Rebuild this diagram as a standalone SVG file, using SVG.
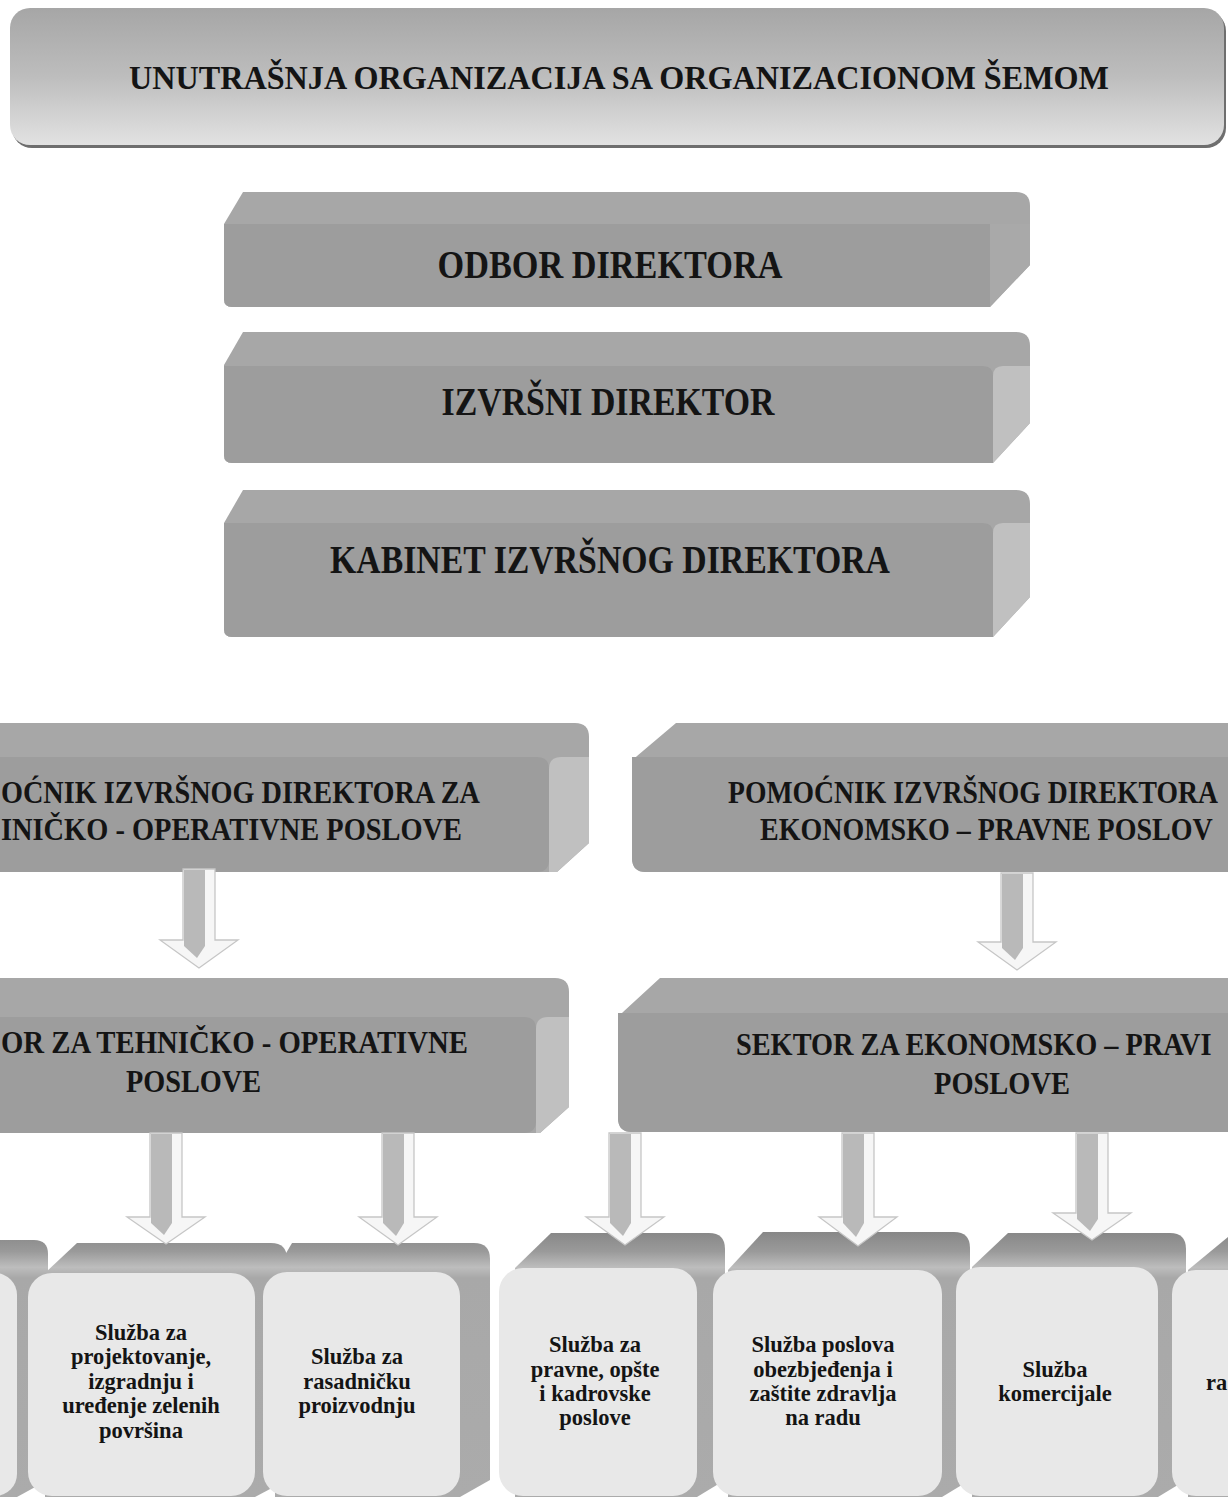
<svg xmlns="http://www.w3.org/2000/svg" width="1228" height="1497" viewBox="0 0 1228 1497">
<style>
  .t{font-family:"Liberation Serif","Times New Roman",serif;font-weight:bold;fill:#141414}
  .title{font-size:34px}
  .big{font-size:40px}
  .mid{font-size:32px}
  .sm{font-size:22.5px;text-anchor:middle}
  .sil{fill:#a7a7a7}
  .front{fill:#9d9d9d}
  .side{fill:#c0c0c0}
  .bfront{fill:#e8e8e8}
  .back{fill:url(#gTop)}
  .aout{fill:#f6f6f6;stroke:#c6c6c6;stroke-width:1.3}
  .ain{fill:#b9b9b9}
</style>
<defs>
  <linearGradient id="gTitle" x1="0" y1="0" x2="0" y2="1">
    <stop offset="0" stop-color="#a6a6a6"/>
    <stop offset="0.5" stop-color="#bdbdbd"/>
    <stop offset="1" stop-color="#e2e2e2"/>
  </linearGradient>
  <linearGradient id="gTop" gradientUnits="userSpaceOnUse" x1="0" y1="1230" x2="0" y2="1497">
    <stop offset="0" stop-color="#858585"/>
    <stop offset="0.08" stop-color="#9a9a9a"/>
    <stop offset="0.14" stop-color="#bdbdbd"/>
    <stop offset="0.18" stop-color="#a8a8a8"/>
    <stop offset="1" stop-color="#ababab"/>
  </linearGradient>
</defs>

<g id="title">
  <rect x="12" y="11" width="1214" height="137" rx="20" fill="#6e6e6e"/>
  <rect x="10" y="8" width="1214" height="137" rx="20" fill="url(#gTitle)"/>
  <text class="t title" x="619" y="89" text-anchor="middle" textLength="980" lengthAdjust="spacingAndGlyphs">UNUTRAŠNJA ORGANIZACIJA SA ORGANIZACIONOM ŠEMOM</text>
</g>

<g id="odbor-direktora">
  <path class="sil" d="M243,192 H1016 Q1030,192 1030,206 V265 L990,307 H232 Q224,307 224,299 V224 Z"/>
  <path class="front" d="M224,224 H990 V307 H232 Q224,307 224,299 Z"/>
  <path fill="#a9a9a9" d="M990,224 H1030 V265 L990,307 Z"/>
  <text class="t big" x="610" y="278" text-anchor="middle" textLength="345" lengthAdjust="spacingAndGlyphs">ODBOR DIREKTORA</text>
</g>

<g id="izvrsni-direktor">
  <path class="sil" d="M243,332 H1016 Q1030,332 1030,346 V423 L993,463 H232 Q224,463 224,455 V365 Z"/>
  <path class="front" d="M224,366 H983 Q993,366 993,376 V463 H232 Q224,463 224,455 Z"/>
  <path class="side" d="M993,376 Q993,366 1003,366 H1030 V423 L993,463 Z"/>
  <text class="t big" x="608" y="415" text-anchor="middle" textLength="333" lengthAdjust="spacingAndGlyphs">IZVRŠNI DIREKTOR</text>
</g>

<g id="kabinet">
  <path class="sil" d="M243,490 H1016 Q1030,490 1030,504 V597 L993,637 H232 Q224,637 224,629 V523 Z"/>
  <path class="front" d="M224,523 H983 Q993,523 993,533 V637 H232 Q224,637 224,629 Z"/>
  <path class="side" d="M993,533 Q993,523 1003,523 H1030 V597 L993,637 Z"/>
  <text class="t big" x="610" y="573" text-anchor="middle" textLength="560" lengthAdjust="spacingAndGlyphs">KABINET IZVRŠNOG DIREKTORA</text>
</g>

<g id="pomocnik-tehnicko">
  <path class="sil" d="M-5,723 H575 Q589,723 589,737 V843 L557,872 H-5 Z"/>
  <path class="front" d="M-5,757 H537 Q549,757 549,769 V860 Q549,872 537,872 H-5 Z"/>
  <path class="side" d="M549,769 Q549,757 561,757 H589 V843 L557,872 H549 Z"/>
  <text class="t mid" x="1" y="803" textLength="479" lengthAdjust="spacingAndGlyphs">OĆNIK IZVRŠNOG DIREKTORA ZA</text>
  <text class="t mid" x="1" y="840" textLength="461" lengthAdjust="spacingAndGlyphs">INIČKO - OPERATIVNE POSLOVE</text>
</g>

<g id="pomocnik-ekonomsko">
  <path class="sil" d="M676,723 H1235 V872 H646 Q632,872 632,858 V766 Q632,760 637,756 Z"/>
  <path class="front" d="M632,757 H1235 V872 H646 Q632,872 632,858 Z"/>
  <text class="t mid" transform="translate(728,803) scale(0.865,1)">POMOĆNIK IZVRŠNOG DIREKTORA</text>
  <text class="t mid" transform="translate(760,840) scale(0.875,1)">EKONOMSKO – PRAVNE POSLOV</text>
</g>

<g id="sektor-tehnicko">
  <path class="sil" d="M-5,978 H555 Q569,978 569,992 V1107 L540,1133 H-5 Z"/>
  <path class="front" d="M-5,1017 H524 Q536,1017 536,1029 V1121 Q536,1133 524,1133 H-5 Z"/>
  <path class="side" d="M536,1029 Q536,1017 548,1017 H569 V1107 L540,1133 H536 Z"/>
  <text class="t mid" x="1" y="1053" textLength="467" lengthAdjust="spacingAndGlyphs">OR ZA TEHNIČKO - OPERATIVNE</text>
  <text class="t mid" x="126" y="1092" textLength="135" lengthAdjust="spacingAndGlyphs">POSLOVE</text>
</g>

<g id="sektor-ekonomsko">
  <path class="sil" d="M660,978 H1235 V1132 H632 Q618,1132 618,1118 V1022 Q618,1016 623,1012 Z"/>
  <path class="front" d="M618,1013 H1235 V1132 H632 Q618,1132 618,1118 Z"/>
  <text class="t mid" transform="translate(736,1055) scale(0.885,1)">SEKTOR ZA EKONOMSKO – PRAVI</text>
  <text class="t mid" x="934" y="1094" textLength="136" lengthAdjust="spacingAndGlyphs">POSLOVE</text>
</g>

<g id="sluzba-a">
  <path class="back" d="M-40,1240 H34 Q48,1240 48,1254 V1480 L17,1497 H-40 Z"/>
  <rect class="bfront" x="-200" y="1273" width="217" height="223" rx="22"/>
</g>

<g id="sluzba-projektovanje">
  <path class="back" d="M45,1273 L77,1243 H271 Q287,1243 287,1259 V1480 L255,1497 H45 Z"/>
  <rect class="bfront" x="28" y="1273" width="227" height="223" rx="24"/>
  <text class="t sm" x="141" y="1340">Služba za</text>
  <text class="t sm" x="141" y="1364">projektovanje,</text>
  <text class="t sm" x="141" y="1389">izgradnju i</text>
  <text class="t sm" x="141" y="1413">uređenje zelenih</text>
  <text class="t sm" x="141" y="1438">površina</text>
</g>

<g id="sluzba-rasadnicka">
  <path class="back" d="M275,1272 L292,1243 H474 Q490,1243 490,1259 V1480 L460,1497 H275 Z"/>
  <rect class="bfront" x="263" y="1272" width="197" height="224" rx="24"/>
  <text class="t sm" x="357" y="1364">Služba za</text>
  <text class="t sm" x="357" y="1389">rasadničku</text>
  <text class="t sm" x="357" y="1413">proizvodnju</text>
</g>

<g id="sluzba-pravne">
  <path class="back" d="M515,1268 L551,1233 H709 Q725,1233 725,1249 V1480 L697,1497 H515 Z"/>
  <rect class="bfront" x="499" y="1268" width="198" height="228" rx="24"/>
  <text class="t sm" x="595" y="1352">Služba za</text>
  <text class="t sm" x="595" y="1377">pravne, opšte</text>
  <text class="t sm" x="595" y="1401">i kadrovske</text>
  <text class="t sm" x="595" y="1425">poslove</text>
</g>

<g id="sluzba-obezbjedjenja">
  <path class="back" d="M728,1270 L763,1232 H954 Q970,1232 970,1248 V1480 L942,1497 H728 Z"/>
  <rect class="bfront" x="713" y="1270" width="229" height="226" rx="24"/>
  <text class="t sm" x="823" y="1352">Služba poslova</text>
  <text class="t sm" x="823" y="1377">obezbjeđenja i</text>
  <text class="t sm" x="823" y="1401">zaštite zdravlja</text>
  <text class="t sm" x="823" y="1425">na radu</text>
</g>

<g id="sluzba-komercijale">
  <path class="back" d="M972,1267 L1008,1233 H1170 Q1186,1233 1186,1249 V1480 L1158,1497 H972 Z"/>
  <rect class="bfront" x="956" y="1267" width="202" height="229" rx="24"/>
  <text class="t sm" x="1055" y="1377">Služba</text>
  <text class="t sm" x="1055" y="1401">komercijale</text>
</g>

<g id="sluzba-ra">
  <path class="back" d="M1188,1270 L1228,1237 H1260 V1497 H1188 Z"/>
  <rect class="bfront" x="1172" y="1270" width="228" height="226" rx="24"/>
  <text class="t" style="font-size:22.5px" x="1206" y="1390">ra</text>
</g>

<g id="connectors">
  <path class="aout" d="M183,869 H215 V940 H238 L199,968 L160,940 H183 Z"/>
  <path class="ain" d="M184,870 H205 V946 L197,958 L184,946 Z"/>

  <path class="aout" d="M1001,873 H1033 V942 H1056 L1017,970 L978,942 H1001 Z"/>
  <path class="ain" d="M1002,874 H1023 V948 L1015,960 L1002,948 Z"/>

  <path class="aout" d="M150,1133 H182 V1217 H205 L166,1244 L127,1217 H150 Z"/>
  <path class="ain" d="M151,1134 H172 V1223 L164,1235 L151,1223 Z"/>

  <path class="aout" d="M382,1133 H414 V1217 H437 L398,1245 L359,1217 H382 Z"/>
  <path class="ain" d="M383,1134 H404 V1223 L396,1236 L383,1223 Z"/>

  <path class="aout" d="M609,1133 H641 V1217 H664 L625,1245 L586,1217 H609 Z"/>
  <path class="ain" d="M610,1134 H631 V1223 L623,1236 L610,1223 Z"/>

  <path class="aout" d="M842,1133 H874 V1217 H897 L858,1246 L819,1217 H842 Z"/>
  <path class="ain" d="M843,1134 H864 V1223 L856,1237 L843,1223 Z"/>

  <path class="aout" d="M1076,1133 H1108 V1213 H1131 L1092,1240 L1053,1213 H1076 Z"/>
  <path class="ain" d="M1077,1134 H1098 V1219 L1090,1231 L1077,1219 Z"/>
</g>
</svg>
